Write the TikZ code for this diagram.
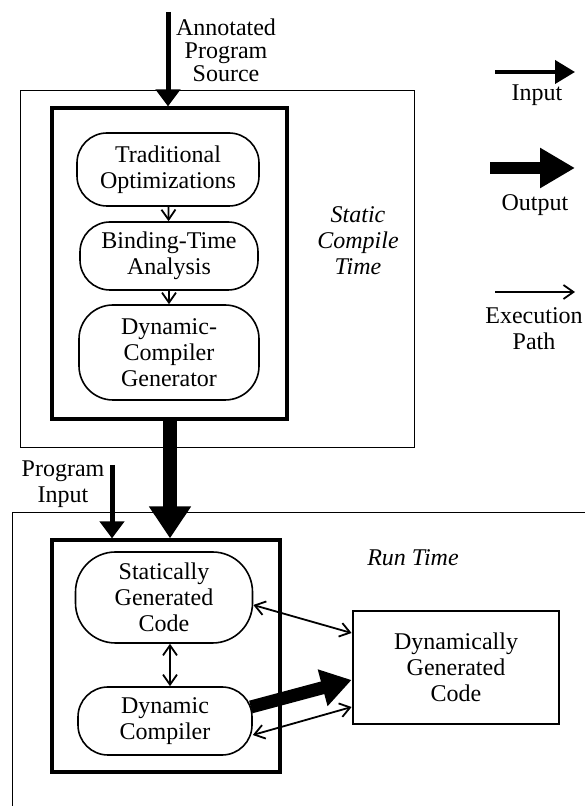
\documentclass[tikz,border=0pt]{standalone}
\usepackage{fontspec}
\setmainfont{Liberation Serif}
\usepackage{tikz}
\usetikzlibrary{positioning,calc,arrows.meta}

\tikzset{
  stage/.style={draw, line width=1.6pt, rounded corners=30pt, align=center, inner sep=2pt},
  phase/.style={draw, line width=3.2pt, inner sep=0pt},
  zone/.style={line width=0.8pt},
  inarrow/.style={line width=5pt, -{Triangle[length=17pt,width=24pt]}},
  outarrow/.style={line width=14pt, -{Triangle[length=32pt,width=40pt]}},
  execarrow/.style={line width=1.8pt, -{Straight Barb[length=10pt,width=14pt]}},
  execboth/.style={line width=1.8pt, {Straight Barb[length=10pt,width=14pt]}-{Straight Barb[length=10pt,width=14pt]}},
  lbl/.style={align=center}
}

\begin{document}
\begin{tikzpicture}[x=1pt, y=1pt, font=\fontsize{24}{26}\selectfont]
  \useasboundingbox (0,0) rectangle (585,806);

  % Static compile time
  \draw[zone] (20,359) rectangle (414,716);
  \node[phase, minimum width=235pt, minimum height=311pt] (scbox) at (169.5,542.5) {};
  \node[stage, minimum width=182pt, minimum height=73pt] (trad) at (168,636.5) {Traditional\\Optimizations};
  \node[stage, minimum width=178pt, minimum height=68pt] (bind) at (169,550) {Binding-Time\\Analysis};
  \node[stage, minimum width=180pt, minimum height=95pt, rounded corners=34pt] (dcg) at (169,453.5) {Dynamic-\\Compiler\\Generator};
  \node[lbl, font=\fontsize{24}{26}\selectfont\itshape] (sctime) at (358,565) {Static\\Compile\\Time};

  \coordinate (src) at (168,794);
  \node[lbl, font=\fontsize{24}{23}\selectfont] (srclbl) at (226,756) {Annotated\\Program\\Source};
  \draw[inarrow] (src) -- (src |- scbox.north);
  \draw[execarrow] (trad) -- (bind);
  \draw[execarrow] (bind) -- (dcg);

  % Run time
  \draw[zone] (12,0) -- (12,294) -- (585,294);
  \node[phase, minimum width=228pt, minimum height=232pt] (rtbox) at (166,150) {};
  \node[stage, minimum width=177pt, minimum height=91pt, rounded corners=40pt] (sgc) at (164,208.5) {Statically\\Generated\\Code};
  \node[stage, minimum width=174pt, minimum height=68pt] (dc) at (165,85) {Dynamic\\Compiler};
  \node[phase, line width=2.8pt, minimum width=206pt, minimum height=113pt, align=center] (dgc) at (456,138.5) {Dynamically\\Generated\\Code};
  \node[font=\fontsize{24}{26}\selectfont\itshape] (rtime) at (413,248) {Run Time};

  \draw[outarrow] (scbox.south -| 170,0) -- (rtbox.north -| 170,0);
  \coordinate (pin) at (112,341);
  \node[lbl] (pinlbl) at (63,321.5) {Program\\Input};
  \draw[inarrow] (pin) -- (pin |- rtbox.north);

  \draw[execboth] ($(sgc.south)+(6,0)$) -- ($(dc.north)+(5,0)$);
  \draw[execboth] ($(sgc.east)+(0,-7.5)$) -- ($(dgc.west)+(0,34.5)$);
  \draw[outarrow, line width=13pt, -{Triangle[length=30pt,width=36pt]}] ($(dc.east)+(-2,14)$) -- ($(dgc.west)+(0,-12.5)$);
  \draw[execboth] ($(dc.east)+(0,-14)$) -- ($(dgc.west)+(0,-39.5)$);

  % Legend
  \coordinate (lin-a) at (495,734);
  \coordinate (lin-b) at (575,734);
  \draw[inarrow, line width=4pt, -{Triangle[length=20pt,width=23pt]}] (lin-a) -- (lin-b);
  \node (inlbl) at (537,711) {Input};

  \coordinate (lout-a) at (490,638);
  \coordinate (lout-b) at (575,638);
  \draw[outarrow, line width=12pt, -{Triangle[length=35pt,width=38pt]}] (lout-a) -- (lout-b);
  \node (outlbl) at (535,601) {Output};

  \coordinate (lexe-a) at (495,514);
  \coordinate (lexe-b) at (575,514);
  \draw[execarrow] (lexe-a) -- (lexe-b);
  \node[lbl] (exelbl) at (534,477.5) {Execution\\Path};
\end{tikzpicture}
\end{document}
